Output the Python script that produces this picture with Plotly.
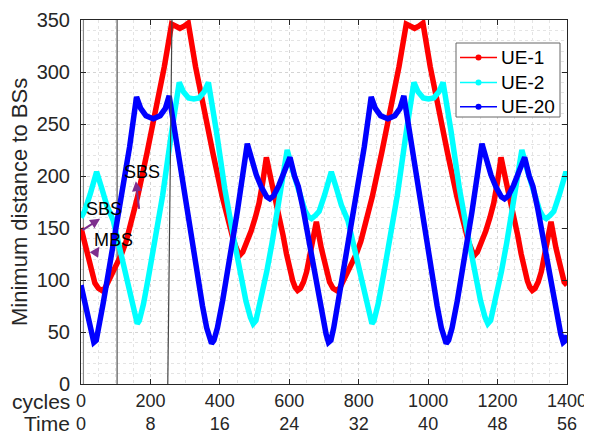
import plotly.graph_objects as go

# ---------------- data ----------------
cycles_ticks = [0, 200, 400, 600, 800, 1000, 1200, 1400]
time_ticks = [0, 8, 16, 24, 32, 40, 48, 56]
y_ticks = [0, 50, 100, 150, 200, 250, 300, 350]

series_names = ["UE-1", "UE-2", "UE-20"]

ue1_x = [0, 14, 29, 40, 50, 60, 69, 79, 89, 103, 117, 130, 145, 163, 190, 220, 240, 261, 273, 285,
         297, 309, 330, 350, 380, 407, 425, 440, 453, 458, 466, 478, 490, 502, 513, 524, 534, 549, 558, 570,
         582, 592, 601, 610, 617, 624, 632, 641, 650, 664, 678, 692, 707, 716, 726, 736, 745, 755, 765, 779,
         793, 806, 821, 839, 866, 896, 916, 937, 949, 961, 973, 985, 1006, 1026, 1056, 1083, 1101, 1116, 1129, 1134,
         1142, 1154, 1166, 1178, 1189, 1200, 1210, 1225, 1234, 1246, 1258, 1268, 1277, 1286, 1293, 1300, 1308, 1317, 1326, 1340,
         1354, 1368, 1383, 1392, 1400]
ue1_y = [150, 130, 108, 97, 92, 90, 92, 99, 107, 115, 125, 137, 155, 180, 222, 270, 305, 346, 344, 342,
         344, 347, 305, 270, 222, 180, 155, 137, 126, 124, 127, 136, 147, 160, 174, 195, 218, 194, 181, 162,
         143, 125, 110, 99, 93, 90, 92, 98, 108, 131, 156, 131, 108, 98, 92, 90, 92, 99, 107, 115,
         125, 137, 155, 180, 222, 270, 305, 346, 344, 342, 344, 347, 305, 270, 222, 180, 155, 137, 126, 124,
         127, 136, 147, 160, 174, 195, 218, 194, 181, 162, 143, 125, 110, 99, 93, 90, 92, 98, 108, 131,
         156, 131, 108, 98, 95]

ue2_x = [0, 10, 26, 45, 60, 74, 93, 110, 125, 140, 150, 156, 162, 168, 180, 195, 215, 235, 260, 283,
         295, 310, 325, 340, 355, 367, 390, 414, 440, 460, 475, 488, 496, 504, 518, 535, 550, 570, 594, 610,
         630, 645, 655, 664, 675, 686, 702, 721, 736, 750, 769, 786, 801, 816, 826, 832, 838, 844, 856, 871,
         891, 911, 936, 959, 971, 986, 1001, 1016, 1031, 1043, 1066, 1090, 1116, 1136, 1151, 1164, 1172, 1180, 1194, 1211,
         1226, 1246, 1270, 1286, 1306, 1321, 1331, 1340, 1351, 1362, 1378, 1397, 1400]
ue2_y = [160, 166, 182, 204, 188, 172, 157, 132, 108, 85, 70, 62, 58, 61, 77, 104, 140, 181, 240, 290,
         281, 275, 274, 275, 281, 290, 243, 188, 140, 105, 80, 64, 58, 61, 80, 108, 135, 175, 225, 205,
         181, 167, 161, 159, 162, 166, 182, 204, 188, 172, 157, 132, 108, 85, 70, 62, 58, 61, 77, 104,
         140, 181, 240, 290, 281, 275, 274, 275, 281, 290, 243, 188, 140, 105, 80, 64, 58, 61, 80, 108,
         135, 175, 225, 205, 181, 167, 161, 159, 162, 166, 182, 204, 201]

ue20_x = [0, 12, 22, 30, 37, 44, 52, 64, 80, 95, 117, 140, 160, 172, 187, 208, 228, 243, 254, 275,
          295, 315, 335, 350, 362, 370, 376, 383, 393, 408, 428, 450, 479, 490, 505, 520, 535, 544, 555, 570,
          585, 602, 615, 626, 640, 660, 676, 688, 698, 706, 713, 720, 728, 740, 756, 771, 793, 816, 836, 848,
          863, 884, 904, 919, 930, 951, 971, 991, 1011, 1026, 1038, 1046, 1052, 1059, 1069, 1084, 1104, 1126, 1155, 1166,
          1181, 1196, 1211, 1220, 1231, 1246, 1261, 1278, 1291, 1302, 1316, 1336, 1352, 1364, 1374, 1382, 1389, 1396, 1400]
ue20_y = [95, 76, 60, 48, 40, 42, 54, 78, 109, 138, 182, 228, 276, 265, 258, 255, 258, 265, 277, 232,
          186, 143, 103, 75, 54, 44, 39, 42, 54, 80, 120, 165, 231, 216, 201, 189, 180, 178, 181, 191,
          203, 218, 200, 190, 168, 130, 100, 76, 60, 48, 40, 42, 54, 78, 109, 138, 182, 228, 276, 265,
          258, 255, 258, 265, 277, 232, 186, 143, 103, 75, 54, 44, 39, 42, 54, 80, 120, 165, 231, 216,
          201, 189, 180, 178, 181, 191, 203, 218, 200, 190, 168, 130, 100, 76, 60, 48, 40, 42, 47]

# reference (vertical) lines drawn in the figure: x pairs and y pairs
ref_lines_x = [[7, 7], [104, 104], [250, 262]]
ref_lines_y = [[0, 350], [0, 350], [0, 350]]

# labelled arrows: text, text position, arrow tail, arrow head
label_texts = ["SBS", "MBS", "SBS"]
label_pos = [(66, 168), (95, 138), (177, 204)]
arrow_tail = [(0, 147), (35, 123), (168, 167)]
arrow_head = [(55, 159), (53, 132), (158, 195)]

# ---------------- styling ----------------
FONT = "Liberation Sans, Arial, Helvetica, sans-serif"
AX = "#262626"
colors = ["#ff0000", "#00ffff", "#0000ff"]
PURPLE = "#7E2F8E"

# plot area on the page: x 81..567, y 20..384 (page has an 8px body margin)
PL, PR, PT, PB = 81.0, 567.0, 20.0, 384.0


def px_to_paper_x(px):
    return (px - PL) / (PR - PL)


def px_to_paper_y(py):
    return (PB - py) / (PB - PT)


fig = go.Figure()

# thin reference lines (under the curves)
for lx, ly, col in zip(ref_lines_x[:2], ref_lines_y[:2], ["#8a8a8a", "#555555"]):
    fig.add_trace(go.Scatter(x=lx, y=ly, mode="lines", line=dict(color=col, width=1.2),
                             showlegend=False, hoverinfo="skip"))

data = [(ue1_x, ue1_y), (ue2_x, ue2_y), (ue20_x, ue20_y)]
for (xs, ys), col, nm in zip(data, colors, series_names):
    fig.add_trace(go.Scatter(x=xs, y=ys, mode="lines", name=nm,
                             line=dict(color=col, width=5.5), showlegend=False))

# slanted line on top
fig.add_trace(go.Scatter(x=ref_lines_x[2], y=ref_lines_y[2], mode="lines",
                         line=dict(color="#444444", width=1.2), showlegend=False, hoverinfo="skip"))

# ---------- legend (MATLAB-style box: thin line with a dot, tight rows) ----------
shapes = []
annotations = []
shapes.append(dict(type="rect", xref="paper", yref="paper", layer="above",
                   x0=px_to_paper_x(456), x1=px_to_paper_x(560),
                   y0=px_to_paper_y(117), y1=px_to_paper_y(43),
                   fillcolor="white", line=dict(color="#666666", width=1)))
row_py = [57.6, 82.4, 106.8]
for col, nm, py in zip(colors, series_names, row_py):
    yy = px_to_paper_y(py)
    shapes.append(dict(type="line", xref="paper", yref="paper", layer="above",
                       x0=px_to_paper_x(460), x1=px_to_paper_x(497), y0=yy, y1=yy,
                       line=dict(color=col, width=1.5)))
    shapes.append(dict(type="circle", xref="paper", yref="paper", layer="above",
                       x0=px_to_paper_x(475.5), x1=px_to_paper_x(481.5),
                       y0=px_to_paper_y(py + 3), y1=px_to_paper_y(py - 3),
                       fillcolor=col, line=dict(color=col, width=0)))
    annotations.append(dict(x=px_to_paper_x(499), y=yy, xref="paper", yref="paper", text=nm,
                            showarrow=False, xanchor="left", yanchor="middle",
                            font=dict(family=FONT, size=19, color="#000000")))

for txt, (tx, ty), (ax_, ay_), (hx, hy) in zip(label_texts, label_pos, arrow_tail, arrow_head):
    annotations.append(dict(x=hx, y=hy, ax=ax_, ay=ay_, xref="x", yref="y", axref="x", ayref="y",
                            text="", showarrow=True, arrowhead=2, arrowsize=1, arrowwidth=2,
                            arrowcolor=PURPLE, standoff=0))
    annotations.append(dict(x=tx, y=ty, xref="x", yref="y", text=txt, showarrow=False,
                            font=dict(family=FONT, size=18, color="#000000"),
                            xanchor="center", yanchor="middle"))

annotations.append(dict(x=px_to_paper_x(72), y=px_to_paper_y(401), xref="paper", yref="paper",
                        text="cycles", showarrow=False, xanchor="right", yanchor="middle",
                        font=dict(family=FONT, size=21, color=AX)))
annotations.append(dict(x=px_to_paper_x(72), y=px_to_paper_y(423.5), xref="paper", yref="paper",
                        text="Time", showarrow=False, xanchor="right", yanchor="middle",
                        font=dict(family=FONT, size=21, color=AX)))
annotations.append(dict(x=px_to_paper_x(19), y=0.5, xref="paper", yref="paper",
                        text="Minimum distance to BSs",
                        textangle=-90, showarrow=False, xanchor="center", yanchor="middle",
                        font=dict(family=FONT, size=22, color=AX)))

fig.update_layout(
    width=584, height=426,
    margin=dict(l=73, r=25, t=12, b=50, autoexpand=False),
    paper_bgcolor="white", plot_bgcolor="white",
    font=dict(family=FONT, size=20, color=AX),
    showlegend=False,
    shapes=shapes,
    annotations=annotations,
)

fig.update_xaxes(
    automargin=False,
    range=[0, 1400], tickmode="array", tickvals=cycles_ticks,
    ticktext=[f"{c}<br>{t}" for c, t in zip(cycles_ticks, time_ticks)],
    ticks="inside", ticklen=5, tickcolor=AX, showline=True, linecolor=AX, linewidth=1,
    mirror="ticks", showgrid=True, gridcolor="#d4d4d4", griddash="dot", gridwidth=1,
    zeroline=False, tickfont=dict(family=FONT, size=18, color=AX), ticklabelstandoff=0,
    minor=dict(dtick=50, showgrid=True, gridcolor="#e4e4e4", griddash="dot", ticks=""),
)
fig.update_yaxes(
    automargin=False,
    range=[0, 350], tickmode="array", tickvals=y_ticks,
    ticks="inside", ticklen=5, tickcolor=AX, showline=True, linecolor=AX, linewidth=1,
    mirror="ticks", showgrid=True, gridcolor="#d4d4d4", griddash="dot", gridwidth=1,
    zeroline=False, tickfont=dict(family=FONT, size=20, color=AX), ticklabelstandoff=6,
    minor=dict(dtick=10, showgrid=True, gridcolor="#e4e4e4", griddash="dot", ticks=""),
)

fig.write_html("out.html")
